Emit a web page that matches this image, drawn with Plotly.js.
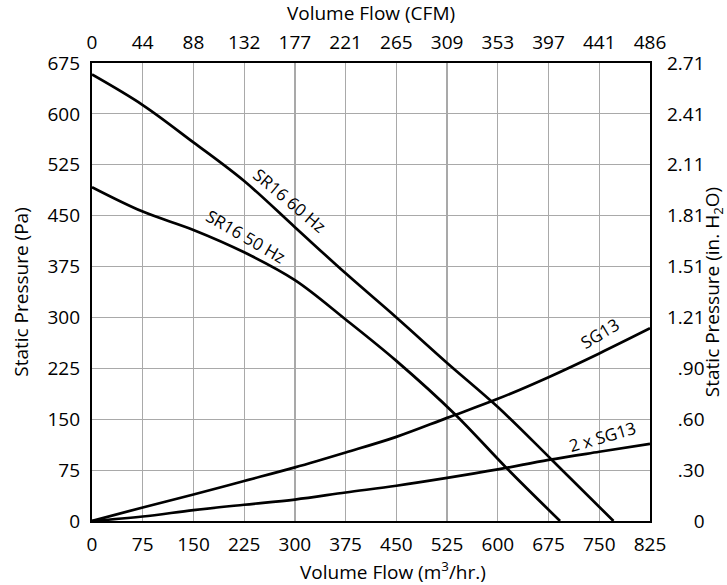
<!DOCTYPE html>
<html>
<head>
<meta charset="utf-8">
<script src="https://cdn.plot.ly/plotly-3.0.1.min.js"></script>
<style>html,body{margin:0;padding:0;background:#fff;}#chart{width:727px;height:585px;}</style>
</head>
<body>
<div id="chart"></div>
<script>
// Axis ticks (m3/hr bottom, CFM top, Pa left, in. H2O right)
const flowTicks = [0, 75, 150, 225, 300, 375, 450, 525, 600, 675, 750, 825];
const cfmLabels = ["0", "44", "88", "132", "177", "221", "265", "309", "353", "397", "441", "486"];
const paTicks = [0, 75, 150, 225, 300, 375, 450, 525, 600, 675];
const inH2OLabels = ["\u2007\u2008\u20070", "\u2007.30", "\u2007.60", "\u2007.90", "1.21", "1.51", "1.81", "2.11", "2.41", "2.71"];

// Fan curves
const sr60Flow = [0, 75, 150, 225, 300, 375, 450, 525, 600, 680, 771];
const sr60Pa   = [658, 613, 558, 501, 433, 365, 300, 233, 168, 90, 0];
const sr50Flow = [0, 75, 150, 225, 300, 375, 450, 537, 613, 692];
const sr50Pa   = [492, 456, 429, 396, 355, 297, 236, 157, 78, 0];

// System curves
const sgFlow   = [0, 75, 150, 225, 300, 375, 450, 525, 600, 675, 750, 825];
const sg13Pa   = [0, 20, 39, 59, 79, 101, 124, 152, 180, 212, 247, 284];
const sg13x2Pa = [0, 6.6, 16, 24, 31.6, 42, 52, 63.5, 76, 90, 102, 113.6];

// Curve labels
const labelText  = ["SR16 60 Hz", "SR16 50 Hz", "SG13", "2 x SG13"];
const labelFlow  = [293, 228, 750, 755];
const labelPa    = [473, 420, 277, 125];
const labelAngle = [40, 30, -31, -16];

const FONT = "Open Sans, Noto Sans, DejaVu Sans, sans-serif";
const baseLine = {color: "#000", width: 2.7, shape: "spline", smoothing: 1};

const traces = [
  {x: sr60Flow, y: sr60Pa, mode: "lines", line: baseLine, name: "SR16 60 Hz", hoverinfo: "skip"},
  {x: sr50Flow, y: sr50Pa, mode: "lines", line: baseLine, name: "SR16 50 Hz", hoverinfo: "skip"},
  {x: sgFlow, y: sg13Pa, mode: "lines", line: baseLine, name: "SG13", hoverinfo: "skip"},
  {x: sgFlow, y: sg13x2Pa, mode: "lines", line: baseLine, name: "2 x SG13", hoverinfo: "skip"},
  {x: sgFlow, y: sg13Pa, xaxis: "x2", yaxis: "y2", mode: "none", hoverinfo: "skip", showlegend: false}
];

const gridColor = "#a9a9a9";
const tickFont = {family: FONT, size: 19, color: "#000"};
const titleFont = {family: FONT, size: 19, color: "#000"};

const layout = {
  width: 727, height: 585,
  margin: {l: 92, r: 77, t: 63, b: 64, pad: 0},
  paper_bgcolor: "#fff", plot_bgcolor: "#fff",
  showlegend: false,
  font: {family: FONT, color: "#000"},
  xaxis: {
    range: [0, 825], tickmode: "array", tickvals: flowTicks, ticktext: flowTicks.map(String),
    showgrid: true, gridcolor: gridColor, gridwidth: 1.2, zeroline: false,
    showline: true, linecolor: "#000", linewidth: 2.2, ticks: "", tickfont: tickFont,
    ticklabelstandoff: 5
  },
  xaxis2: {
    overlaying: "x", side: "top", anchor: "y2", range: [0, 825], tickmode: "array",
    tickvals: flowTicks, ticktext: cfmLabels, showgrid: false, zeroline: false,
    showline: true, linecolor: "#000", linewidth: 2.2, ticks: "", tickfont: tickFont,
    ticklabelstandoff: 4,
    title: {text: "Volume Flow (CFM)", font: titleFont, standoff: 4}
  },
  yaxis: {
    range: [0, 675], tickmode: "array", tickvals: paTicks, ticktext: paTicks.map(String),
    showgrid: true, gridcolor: gridColor, gridwidth: 1.2, zeroline: false,
    showline: true, linecolor: "#000", linewidth: 2.2, ticks: "", tickfont: tickFont,
    ticklabelstandoff: 6,
    title: {text: "Static Pressure (Pa)", font: titleFont, standoff: 14}
  },
  yaxis2: {
    overlaying: "y", side: "right", anchor: "x2", range: [0, 675], tickmode: "array",
    tickvals: paTicks, ticktext: inH2OLabels, showgrid: false, zeroline: false,
    showline: true, linecolor: "#000", linewidth: 2.2, ticks: "", tickfont: tickFont,
    ticklabelstandoff: 11,
    title: {text: "Static Pressure (in. H<sub>2</sub>O)", font: titleFont, standoff: 4}
  },
  annotations: labelText.map((t, i) => ({
    text: t, x: labelFlow[i], y: labelPa[i], xref: "x", yref: "y",
    showarrow: false, textangle: labelAngle[i],
    font: {family: FONT, size: 17, color: "#000"},
    xanchor: "center", yanchor: "middle"
  })).concat([{
    text: "Volume Flow (m<sup>3</sup>/hr.)", xref: "paper", yref: "paper",
    x: 0.539, y: 0, xanchor: "center", yanchor: "middle", yshift: -50,
    showarrow: false, font: titleFont
  }])
};

Plotly.newPlot("chart", traces, layout, {displayModeBar: false, staticPlot: true});
</script>
</body>
</html>
